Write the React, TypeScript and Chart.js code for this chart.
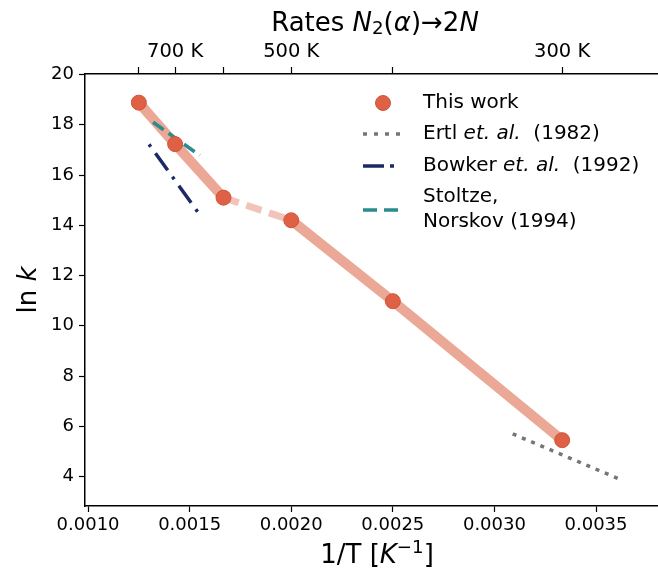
import React, { useEffect, useRef } from "react";
import { Chart, registerables } from "chart.js";

Chart.register(...registerables);

// ---- data ----
const temperaturesK = [800, 700, 600, 500, 400, 300];
const invT = temperaturesK.map((t) => 1 / t);
const lnK = [18.88, 17.23, 15.1, 14.2, 10.98, 5.45];

const ertlX = [0.00309, 0.00363];
const ertlY = [5.7, 3.85];
const bowkerX = [0.0013, 0.00155];
const bowkerY = [17.22, 14.42];
const stoltzeX = [0.00132, 0.00155];
const stoltzeY = [18.1, 16.78];

const bottomTicks = [0.001, 0.0015, 0.002, 0.0025, 0.003, 0.0035];
const leftTicks = [4, 6, 8, 10, 12, 14, 16, 18, 20];
const topTickTemps = [800, 700, 600, 500, 400, 300];
const topLabeledTemps = [700, 500, 300];

const X_MIN = 0.000985;
const X_MAX = 0.003805;
const Y_MIN = 2.83;
const Y_MAX = 20.02;

const FONT = "'DejaVu Sans', sans-serif";

type Run = { t: string; it?: boolean; sub?: boolean; sup?: boolean };

function runFont(size: number, r: Run) {
  const s = r.sub || r.sup ? size * 0.7 : size;
  return `${r.it ? "italic " : ""}${s}px ${FONT}`;
}

function measureRuns(ctx: CanvasRenderingContext2D, runs: Run[], size: number) {
  let w = 0;
  for (const r of runs) {
    ctx.font = runFont(size, r);
    w += ctx.measureText(r.t).width;
  }
  return w;
}

function drawRuns(
  ctx: CanvasRenderingContext2D,
  runs: Run[],
  x: number,
  y: number,
  size: number,
  align: "left" | "center"
) {
  const w = measureRuns(ctx, runs, size);
  let cx = align === "center" ? x - w / 2 : x;
  ctx.textAlign = "left";
  ctx.textBaseline = "middle";
  ctx.fillStyle = "#000";
  for (const r of runs) {
    ctx.font = runFont(size, r);
    let dy = 0;
    if (r.sub) dy = size * 0.22;
    if (r.sup) dy = -size * 0.3;
    ctx.fillText(r.t, cx, y + dy);
    cx += ctx.measureText(r.t).width;
  }
}

const titleRuns: Run[] = [
  { t: "Rates " },
  { t: "N", it: true },
  { t: "2", sub: true },
  { t: "(" },
  { t: "α", it: true },
  { t: ")" },
  { t: "→" },
  { t: "2" },
  { t: "N", it: true },
];
const xLabelRuns: Run[] = [
  { t: "1/T [" },
  { t: "K", it: true },
  { t: "−1", sup: true },
  { t: "]" },
];
const yLabelRuns: Run[] = [{ t: "ln " }, { t: "k", it: true }];

const SALMON_LINE = "#eba897";
const POINT_FILL = "#de6145";
const POINT_EDGE = "#d2533a";
const GRAY = "#757575";
const NAVY = "#1b2a66";
const TEAL = "#2a8c8c";

const textPlugin = {
  id: "texts",
  afterDraw(chart: any) {
    const ctx: CanvasRenderingContext2D = chart.ctx;
    ctx.save();
    drawRuns(ctx, titleRuns, 375, 24, 26, "center");
    drawRuns(ctx, xLabelRuns, 377, 556, 26, "center");
    ctx.save();
    ctx.translate(29, 290);
    ctx.rotate(-Math.PI / 2);
    drawRuns(ctx, yLabelRuns, 0, 0, 26, "center");
    ctx.restore();

    // legend
    const lx0 = 363;
    const lx1 = 400;
    const tx = 423;
    const fs = 20;
    ctx.beginPath();
    ctx.arc(383, 103, 7.5, 0, Math.PI * 2);
    ctx.fillStyle = POINT_FILL;
    ctx.fill();
    ctx.lineWidth = 1;
    ctx.strokeStyle = POINT_EDGE;
    ctx.stroke();
    drawRuns(ctx, [{ t: "This work" }], tx, 103, fs, "left");

    const legendLine = (y: number, color: string, dash: number[]) => {
      ctx.beginPath();
      ctx.setLineDash(dash);
      ctx.lineCap = "butt";
      ctx.strokeStyle = color;
      ctx.lineWidth = 3.5;
      ctx.moveTo(lx0, y);
      ctx.lineTo(lx1, y);
      ctx.stroke();
      ctx.setLineDash([]);
    };
    legendLine(134, GRAY, [4, 7]);
    drawRuns(ctx, [{ t: "Ertl " }, { t: "et. al.", it: true }, { t: "  (1982)" }], tx, 134, fs, "left");
    legendLine(166, NAVY, [21, 6, 4, 6]);
    drawRuns(ctx, [{ t: "Bowker " }, { t: "et. al.", it: true }, { t: "  (1992)" }], tx, 166, fs, "left");
    legendLine(210, TEAL, [14, 7]);
    drawRuns(ctx, [{ t: "Stoltze," }], tx, 197, fs, "left");
    drawRuns(ctx, [{ t: "Norskov (1994)" }], tx, 222, fs, "left");
    ctx.restore();
  },
};

export default function App() {
  const ref = useRef<HTMLCanvasElement | null>(null);

  useEffect(() => {
    document.body.style.margin = "0";
    document.body.style.overflow = "hidden";
    document.documentElement.style.overflow = "hidden";
    if (!ref.current) return;
    const tickFont = { family: FONT, size: 18 };
    const topFont = { family: FONT, size: 19.5 };
    const chart = new Chart(ref.current, {
      type: "scatter",
      data: {
        datasets: [
          {
            label: "This work",
            data: invT.map((x, i) => ({ x, y: lnK[i] })),
            showLine: false,
            pointRadius: 7.5,
            pointBackgroundColor: POINT_FILL,
            pointBorderColor: POINT_EDGE,
            pointBorderWidth: 1,
            order: 0,
          } as any,
          {
            label: "Stoltze",
            data: stoltzeX.map((x, i) => ({ x, y: stoltzeY[i] })),
            showLine: true,
            borderColor: TEAL,
            borderWidth: 3.5,
            borderDash: [13, 6],
            borderCapStyle: "butt",
            pointRadius: 0,
            order: 1,
          } as any,
          {
            label: "Bowker",
            data: bowkerX.map((x, i) => ({ x, y: bowkerY[i] })),
            showLine: true,
            borderColor: NAVY,
            borderWidth: 3.5,
            borderDash: [3, 8, 21, 8],
            borderCapStyle: "butt",
            pointRadius: 0,
            order: 2,
          } as any,
          {
            label: "Ertl",
            data: ertlX.map((x, i) => ({ x, y: ertlY[i] })),
            showLine: true,
            borderColor: GRAY,
            borderWidth: 3.5,
            borderDash: [4, 6],
            borderCapStyle: "butt",
            pointRadius: 0,
            order: 3,
          } as any,
          {
            label: "fit",
            data: invT.map((x, i) => ({ x, y: lnK[i] })),
            showLine: true,
            borderColor: SALMON_LINE,
            borderWidth: 10,
            borderJoinStyle: "round",
            borderCapStyle: "butt",
            pointRadius: 0,
            segment: {
              borderDash: (c: any) => (c.p0DataIndex === 2 ? [16, 8] : undefined),
              borderWidth: (c: any) => (c.p0DataIndex === 2 ? 7 : undefined),
              borderColor: (c: any) => (c.p0DataIndex === 2 ? "#f2c3b8" : undefined),
            },
            order: 4,
          } as any,
        ],
      },
      options: {
        animation: false,
        responsive: false,
        maintainAspectRatio: false,
        devicePixelRatio: 1,
        layout: { padding: 0, autoPadding: false },
        plugins: {
          legend: { display: false },
          tooltip: { enabled: false },
          title: { display: false },
        },
        scales: {
          x: {
            type: "linear",
            position: "bottom",
            min: X_MIN,
            max: X_MAX,
            afterBuildTicks: (s: any) => {
              s.ticks = bottomTicks.map((v) => ({ value: v }));
            },
            afterFit: (s: any) => {
              s.height = 68;
              s.paddingLeft = 0;
              s.paddingRight = 0;
            },
            ticks: {
              callback: (v: any) => Number(v).toFixed(4),
              font: tickFont,
              color: "#000",
              padding: 3,
              maxRotation: 0,
              autoSkip: false,
            },
            grid: {
              drawOnChartArea: false,
              drawTicks: true,
              tickLength: 6,
              tickColor: "#000",
              tickWidth: 1.2,
            },
            border: { display: true, color: "#000", width: 1.5 },
          },
          x2: {
            type: "linear",
            position: "top",
            min: X_MIN,
            max: X_MAX,
            afterBuildTicks: (s: any) => {
              s.ticks = topTickTemps.map((t) => ({ value: 1 / t }));
            },
            afterFit: (s: any) => {
              s.height = 74;
              s.paddingLeft = 0;
              s.paddingRight = 0;
            },
            ticks: {
              callback: (v: any) => {
                const t = Math.round(1 / Number(v));
                return topLabeledTemps.includes(t) ? `${t} K` : "";
              },
              font: topFont,
              color: "#000",
              padding: 3,
              maxRotation: 0,
              autoSkip: false,
            },
            grid: {
              drawOnChartArea: false,
              drawTicks: true,
              tickLength: 7,
              tickColor: "#000",
              tickWidth: 1.2,
            },
            border: { display: true, color: "#000", width: 1.5 },
          },
          y: {
            type: "linear",
            position: "left",
            min: Y_MIN,
            max: Y_MAX,
            afterBuildTicks: (s: any) => {
              s.ticks = leftTicks.map((v) => ({ value: v }));
            },
            afterFit: (s: any) => {
              s.width = 85;
              s.paddingTop = 0;
              s.paddingBottom = 0;
            },
            ticks: {
              font: tickFont,
              color: "#000",
              padding: 5,
              autoSkip: false,
            },
            grid: {
              drawOnChartArea: false,
              drawTicks: true,
              tickLength: 6,
              tickColor: "#000",
              tickWidth: 1.2,
            },
            border: { display: true, color: "#000", width: 1.5 },
          },
        },
      } as any,
      plugins: [textPlugin],
    });
    return () => chart.destroy();
  }, []);

  return (
    <div style={{ width: 658, height: 574, position: "relative" }}>
      <canvas ref={ref} width={658} height={574} style={{ display: "block", width: 658, height: 574 }} />
    </div>
  );
}
